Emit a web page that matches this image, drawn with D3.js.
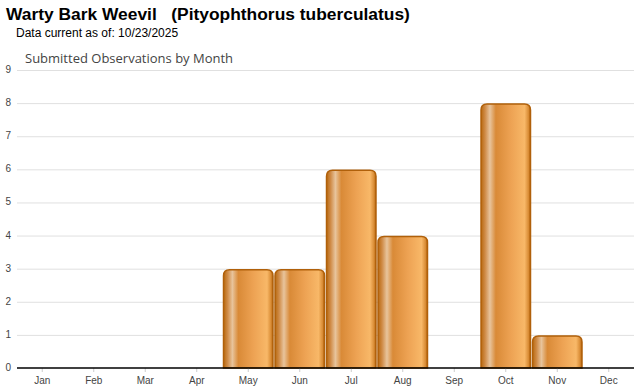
<!DOCTYPE html>
<html>
<head>
<meta charset="utf-8">
<script src="https://cdn.jsdelivr.net/npm/d3@7"></script>
<style>
  body { margin: 0; background: #fff; }
  svg { display: block; }
</style>
</head>
<body>
<svg id="chart"></svg>
<script>
const months = ["Jan", "Feb", "Mar", "Apr", "May", "Jun", "Jul", "Aug", "Sep", "Oct", "Nov", "Dec"];
const counts = [0, 0, 0, 0, 3, 3, 6, 4, 0, 8, 1, 0];
const yTicks = [0, 1, 2, 3, 4, 5, 6, 7, 8, 9];

const width = 640;
const height = 390;
const margin = { top: 70, left: 17, bottom: 22, right: 6 };
const innerWidth = width - margin.left - margin.right;
const innerHeight = height - margin.top - margin.bottom;

const svg = d3.select("#chart")
    .attr("width", width)
    .attr("height", height);

// titles
svg.append("text")
    .attr("x", 6).attr("y", 20)
    .attr("font-family", "Liberation Sans, Arial, sans-serif")
    .attr("font-size", "17.4px")
    .attr("font-weight", "bold")
    .attr("fill", "#000")
    .attr("xml:space", "preserve")
    .text("Warty Bark Weevil   (Pityophthorus tuberculatus)");

svg.append("text")
    .attr("x", 16).attr("y", 37)
    .attr("font-family", "Liberation Sans, Arial, sans-serif")
    .attr("font-size", "12px")
    .attr("fill", "#000")
    .text("Data current as of: 10/23/2025");

svg.append("text")
    .attr("x", 25).attr("y", 63)
    .attr("font-family", "Open Sans, sans-serif")
    .attr("font-size", "13px")
    .attr("fill", "#444")
    .text("Submitted Observations by Month");

// gradient for bars
const defs = svg.append("defs");
const grad = defs.append("linearGradient")
    .attr("id", "barGrad")
    .attr("x1", "0%").attr("x2", "100%").attr("y1", "0%").attr("y2", "0%");
[
    [0, "#b8690f"], [0.08, "#cf8a45"], [0.18, "#e8c49c"], [0.3, "#d98a37"],
    [0.6, "#eda253"], [0.88, "#f8b868"], [0.96, "#d98c35"], [1, "#b0600a"]
].forEach(s => grad.append("stop").attr("offset", s[0]).attr("stop-color", s[1]));

const xScale = d3.scaleBand()
    .domain(months)
    .range([0, innerWidth])
    .paddingInner(0.02)
    .paddingOuter(0);

const yScale = d3.scaleLinear()
    .domain([0, 9])
    .range([innerHeight, 0]);

const g = svg.append("g")
    .attr("transform", "translate(" + margin.left + "," + margin.top + ")");

// grid lines
g.selectAll(".grid")
    .data(yTicks.filter(d => d > 0))
    .enter()
    .append("line")
    .attr("x1", 0).attr("x2", innerWidth)
    .attr("y1", d => yScale(d) + 0.5).attr("y2", d => yScale(d) + 0.5)
    .attr("stroke", "#e0e0e0");

// y labels
g.selectAll(".ylab")
    .data(yTicks)
    .enter()
    .append("text")
    .attr("x", -6)
    .attr("y", d => yScale(d) + 3)
    .attr("text-anchor", "end")
    .attr("font-family", "Liberation Sans, Arial, sans-serif")
    .attr("font-size", "10px")
    .attr("fill", "#444")
    .text(d => d);

// bars with rounded top corners
const r = 6;
g.selectAll(".bar")
    .data(months.map((m, i) => ({ m: m, v: counts[i] })).filter(d => d.v > 0))
    .enter()
    .append("path")
    .attr("class", "bar")
    .attr("d", d => {
        const x0 = xScale(d.m) + 0.5;
        const x1 = x0 + xScale.bandwidth() - 1;
        const y0 = yScale(d.v) + 1;
        const yb = innerHeight;
        return "M" + x0 + "," + yb +
            "V" + (y0 + r) +
            "Q" + x0 + "," + y0 + " " + (x0 + r) + "," + y0 +
            "H" + (x1 - r) +
            "Q" + x1 + "," + y0 + " " + x1 + "," + (y0 + r) +
            "V" + yb + "Z";
    })
    .attr("fill", "url(#barGrad)")
    .attr("stroke", "#b0600a")
    .attr("stroke-width", 1.5);

// x axis
const xAxis = d3.axisBottom(xScale).tickSize(4).tickPadding(5);
const xg = g.append("g")
    .attr("transform", "translate(0," + innerHeight + ")")
    .call(xAxis);
xg.select(".domain").remove();
xg.selectAll(".tick line").attr("stroke", "#ccc");
xg.selectAll(".tick text")
    .attr("font-family", "Liberation Sans, Arial, sans-serif")
    .attr("font-size", "10px")
    .attr("fill", "#444");

g.append("line")
    .attr("x1", 0).attr("x2", innerWidth)
    .attr("y1", innerHeight).attr("y2", innerHeight)
    .attr("stroke", "#000")
    .attr("stroke-width", 1.5);
</script>
</body>
</html>
